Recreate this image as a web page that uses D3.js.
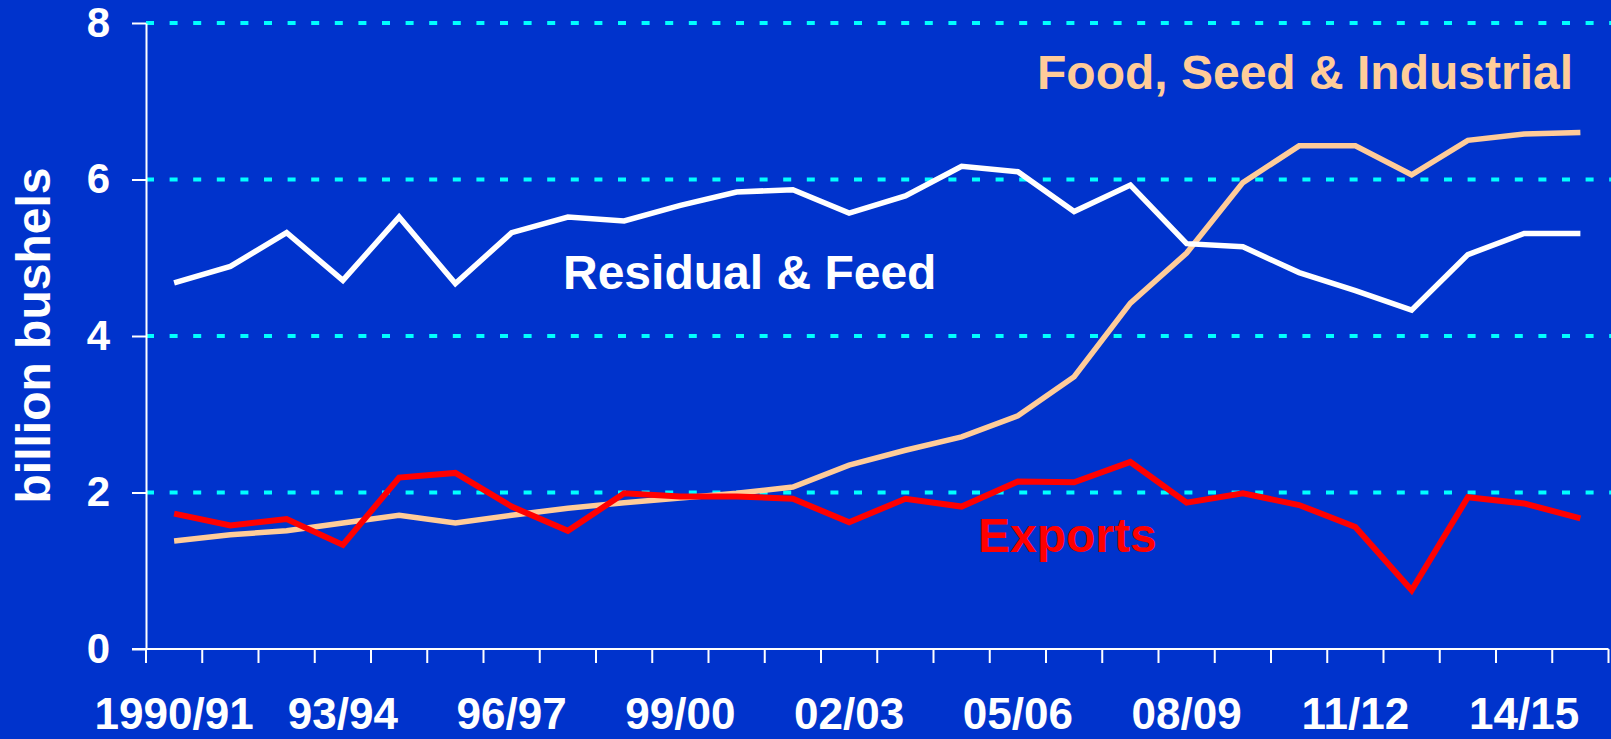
<!DOCTYPE html>
<html>
<head>
<meta charset="utf-8">
<script src="https://cdn.jsdelivr.net/npm/d3@7"></script>
<style>
  html, body { margin: 0; padding: 0; background: #0033cc; }
  svg { display: block; }
  text { font-family: "Liberation Sans", Arial, sans-serif; font-weight: bold; }
</style>
</head>
<body>
<div class="chart"></div>
<script>
// marketing years 1990/91 .. 2015/16
var years = ["1990/91", "91/92", "92/93", "93/94", "94/95", "95/96", "96/97", "97/98",
  "98/99", "99/00", "00/01", "01/02", "02/03", "03/04", "04/05", "05/06", "06/07",
  "07/08", "08/09", "09/10", "10/11", "11/12", "12/13", "13/14", "14/15", "15/16"];

var shownLabels = ["1990/91", "93/94", "96/97", "99/00", "02/03", "05/06", "08/09", "11/12", "14/15"];

var yTicks = [0, 2, 4, 6, 8];

// billion bushels
var residualFeed = [4.68, 4.89, 5.32, 4.71, 5.52, 4.67, 5.32, 5.52, 5.47, 5.67,
  5.84, 5.87, 5.57, 5.79, 6.17, 6.10, 5.59, 5.93, 5.18, 5.14,
  4.81, 4.58, 4.33, 5.04, 5.31, 5.31];

var foodSeedInd = [1.38, 1.46, 1.51, 1.61, 1.71, 1.61, 1.71, 1.80, 1.87, 1.93,
  1.99, 2.07, 2.35, 2.54, 2.71, 2.98, 3.48, 4.42, 5.06, 5.96,
  6.43, 6.43, 6.06, 6.50, 6.58, 6.60];

var exportsData = [1.73, 1.58, 1.66, 1.33, 2.19, 2.25, 1.82, 1.51, 1.99, 1.95,
  1.95, 1.92, 1.62, 1.92, 1.82, 2.14, 2.13, 2.39, 1.87, 1.99,
  1.84, 1.56, 0.75, 1.94, 1.86, 1.67];

var svgWidth = 1611;
var svgHeight = 739;

var plotLeft = 146;
var plotRight = 1608.5;
var plotTop = 23;
var plotBottom = 649;

var svg = d3.select(".chart")
  .append("svg")
  .attr("width", svgWidth)
  .attr("height", svgHeight);

svg.append("rect")
  .attr("width", svgWidth)
  .attr("height", svgHeight)
  .attr("fill", "#0033cc");

var xBand = d3.scaleBand()
  .domain(years)
  .range([plotLeft, plotRight])
  .padding(0);

var yLinearScale = d3.scaleLinear()
  .domain([0, 8])
  .range([plotBottom, plotTop]);

// dashed gridlines
svg.append("g")
  .selectAll("line")
  .data(yTicks.filter(d => d > 0))
  .enter()
  .append("line")
  .attr("x1", plotLeft)
  .attr("x2", svgWidth)
  .attr("y1", d => yLinearScale(d))
  .attr("y2", d => yLinearScale(d))
  .attr("stroke", "#00ffff")
  .attr("stroke-width", 4)
  .attr("stroke-dasharray", "8,15.6");

// y axis
var leftAxis = d3.axisLeft(yLinearScale)
  .tickValues(yTicks)
  .tickSize(14)
  .tickPadding(22)
  .tickSizeOuter(0);

var yAxis = svg.append("g")
  .attr("transform", `translate(${plotLeft}, 0)`)
  .call(leftAxis);

yAxis.select(".domain").attr("stroke", "#ffffff").attr("stroke-width", 2);
yAxis.selectAll(".tick line").attr("stroke", "#ffffff").attr("stroke-width", 2);
yAxis.selectAll(".tick text")
  .attr("fill", "#ffffff")
  .style("font-size", "42px")
  .style("font-family", "'Liberation Sans', Arial, sans-serif")
  .style("font-weight", "bold");

// x axis: labels at band centres, ticks at band edges
var bottomAxis = d3.axisBottom(xBand)
  .tickSize(0)
  .tickPadding(49)
  .tickFormat(d => shownLabels.indexOf(d) >= 0 ? d : "");

var xAxis = svg.append("g")
  .attr("transform", `translate(0, ${plotBottom})`)
  .call(bottomAxis);

xAxis.select(".domain").remove();
xAxis.selectAll(".tick text")
  .attr("fill", "#ffffff")
  .style("font-size", "44px")
  .style("font-family", "'Liberation Sans', Arial, sans-serif")
  .style("font-weight", "bold");

xAxis.append("line")
  .attr("x1", plotLeft - 14)
  .attr("x2", plotRight)
  .attr("y1", 0)
  .attr("y2", 0)
  .attr("stroke", "#ffffff")
  .attr("stroke-width", 2);

var edges = years.map(d => xBand(d)).concat([xBand(years[years.length - 1]) + xBand.bandwidth()]);

xAxis.selectAll(".edge")
  .data(edges)
  .enter()
  .append("line")
  .attr("class", "edge")
  .attr("x1", d => d)
  .attr("x2", d => d)
  .attr("y1", 0)
  .attr("y2", 14)
  .attr("stroke", "#ffffff")
  .attr("stroke-width", 2);

// y axis title
svg.append("text")
  .attr("transform", "translate(50, 335.5) rotate(-90)")
  .attr("text-anchor", "middle")
  .attr("fill", "#ffffff")
  .style("font-size", "48px")
  .text("billion bushels");

// series lines
var lineGen = d3.line()
  .x((d, i) => xBand(years[i]) + xBand.bandwidth() / 2)
  .y(d => yLinearScale(d));

var series = [
  { values: foodSeedInd, color: "#ffcc99", width: 5.5 },
  { values: residualFeed, color: "#ffffff", width: 5.5 },
  { values: exportsData, color: "#ff0000", width: 6 }
];

svg.append("g")
  .selectAll("path")
  .data(series)
  .enter()
  .append("path")
  .attr("d", d => lineGen(d.values))
  .attr("fill", "none")
  .attr("stroke", d => d.color)
  .attr("stroke-width", d => d.width)
  .attr("stroke-linejoin", "miter");

// series labels
svg.append("text")
  .attr("x", 1037)
  .attr("y", 89)
  .attr("fill", "#ffcc99")
  .style("font-size", "48px")
  .text("Food, Seed & Industrial");

svg.append("text")
  .attr("x", 563)
  .attr("y", 289)
  .attr("fill", "#ffffff")
  .style("font-size", "48px")
  .text("Residual & Feed");

svg.append("text")
  .attr("x", 978)
  .attr("y", 552)
  .attr("fill", "#ff0000")
  .style("font-size", "48px")
  .text("Exports");
</script>
</body>
</html>
